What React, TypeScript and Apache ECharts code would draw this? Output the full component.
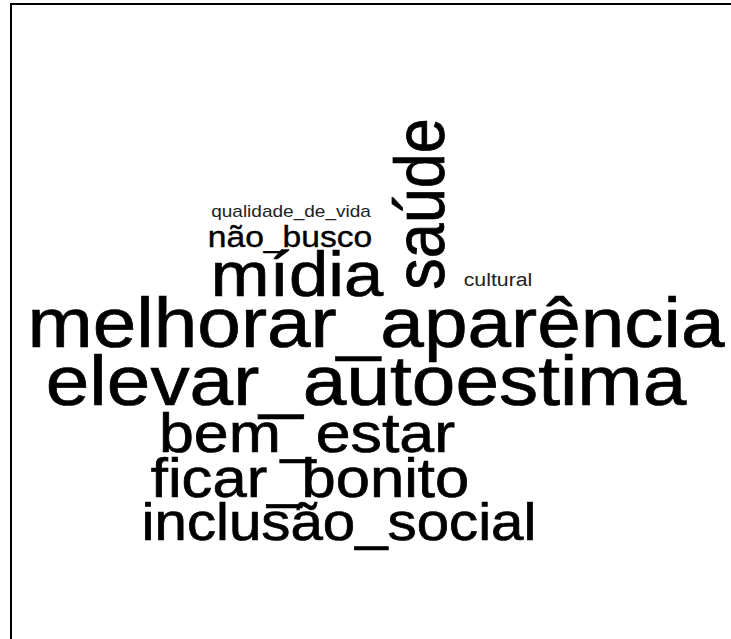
import React, { useEffect, useRef } from "react";
import * as echarts from "echarts";

// Word cloud content
const words = [
  "melhorar_aparência",
  "elevar_autoestima",
  "saúde",
  "mídia",
  "não_busco",
  "qualidade_de_vida",
  "bem_estar",
  "ficar_bonito",
  "inclusão_social",
  "cultural",
];
// relative weight of each word (drawn as font size)
const weights = [70, 70, 63, 63, 30, 17, 56, 55, 52, 19];
// placement of each word on the cloud canvas (horizontal centre, baseline)
const placeX = [376, 366, 444, 297, 290, 291, 307, 310, 339, 498];
const placeY = [347, 405, 204, 296, 247, 217, 452, 497, 540, 286];
// vertical words
const vertical = [false, false, true, false, false, false, false, false, false, false];

const STRETCH = 1.12;
const FONT = 'Arial, "Liberation Sans", Helvetica, sans-serif';

export default function App() {
  const ref = useRef<HTMLDivElement>(null);
  useEffect(() => {
    if (!ref.current) return;
    const chart = echarts.init(ref.current, null, { renderer: "svg" });
    const data = words.map((w, i) => [placeX[i], placeY[i], weights[i], vertical[i] ? 1 : 0, i]);
    chart.setOption({
      animation: false,
      backgroundColor: "#ffffff",
      grid: { left: 0, right: 0, top: 0, bottom: 0 },
      xAxis: { type: "value", min: 0, max: 731, show: false },
      yAxis: { type: "value", min: 0, max: 639, inverse: true, show: false },
      graphic: [
        {
          type: "rect",
          shape: { x: 11, y: 4, width: 800, height: 700 },
          style: { fill: "none", stroke: "#000", lineWidth: 2 },
          silent: true,
        },
      ],
      series: [
        {
          type: "custom",
          coordinateSystem: "cartesian2d",
          data,
          renderItem: (params: any, api: any) => {
            const x = api.value(0);
            const y = api.value(1);
            const fs = api.value(2);
            const rot = api.value(3) === 1;
            const idx = api.value(4);
            const p = api.coord([x, y]);
            const central = 0.347 * fs;
            const small = fs < 25;
            return {
              type: "text",
              x: rot ? p[0] - central * STRETCH : p[0],
              y: rot ? p[1] : p[1] - central,
              rotation: rot ? Math.PI / 2 : 0,
              scaleX: rot ? 1 : STRETCH,
              scaleY: rot ? STRETCH : 1,
              style: {
                text: words[idx],
                fontSize: fs,
                fontFamily: FONT,
                fill: small ? "#222222" : "#000000",
                stroke: small ? undefined : "#000000",
                lineWidth: small ? 0 : fs >= 50 ? 0.7 : 0.4,
                align: "center",
                verticalAlign: "middle",
              },
            };
          },
        },
      ],
    });
    return () => chart.dispose();
  }, []);
  return (
    <div
      ref={ref}
      style={{ position: "fixed", left: 0, top: 0, width: 731, height: 639, background: "#fff" }}
    />
  );
}
